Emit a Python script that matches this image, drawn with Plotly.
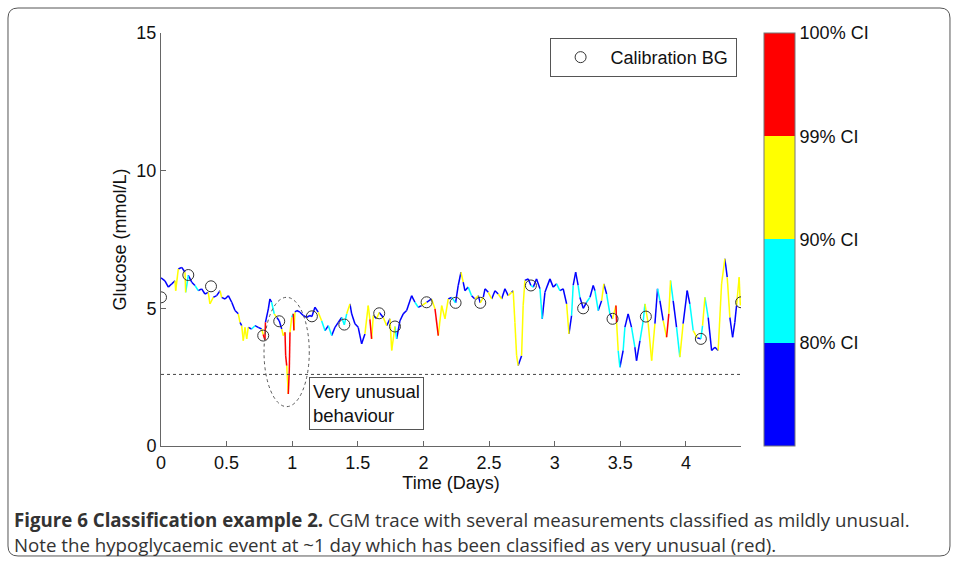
import plotly.graph_objects as go

# CGM trace: time (days), glucose (mmol/L), class index
# class: 0 = below 80% CI (blue), 1 = 80-90% (cyan), 2 = 90-99% (yellow), 3 = 99-100% (red)
time_days = [
    0.000, 0.030, 0.056, 0.082, 0.107, 0.112, 0.132, 0.158, 0.183, 0.188,
    0.208, 0.234, 0.259, 0.284, 0.310, 0.335, 0.360, 0.373, 0.398, 0.424,
    0.450, 0.462, 0.488, 0.513, 0.539, 0.564, 0.589, 0.602, 0.615, 0.627,
    0.640, 0.653, 0.665, 0.691, 0.716, 0.741, 0.767, 0.779, 0.792, 0.796,
    0.818, 0.830, 0.843, 0.863, 0.882, 0.901, 0.920, 0.932, 0.945, 0.950,
    0.958, 0.970, 0.978, 0.983, 0.996, 1.008, 1.013, 1.021, 1.034, 1.059,
    1.084, 1.110, 1.135, 1.150, 1.173, 1.198, 1.224, 1.250, 1.275, 1.301,
    1.326, 1.351, 1.377, 1.397, 1.415, 1.440, 1.453, 1.478, 1.503, 1.529,
    1.554, 1.579, 1.592, 1.605, 1.618, 1.643, 1.663, 1.694, 1.720, 1.745,
    1.758, 1.783, 1.796, 1.821, 1.846, 1.872, 1.910, 1.935, 1.960, 1.986,
    2.024, 2.062, 2.088, 2.113, 2.139, 2.164, 2.189, 2.215, 2.245, 2.265,
    2.286, 2.303, 2.316, 2.341, 2.367, 2.392, 2.418, 2.433, 2.456, 2.469,
    2.494, 2.520, 2.545, 2.570, 2.596, 2.621, 2.646, 2.672, 2.684, 2.697,
    2.710, 2.722, 2.748, 2.760, 2.773, 2.798, 2.819, 2.837, 2.862, 2.888,
    2.905, 2.926, 2.964, 2.989, 3.015, 3.040, 3.065, 3.091, 3.109, 3.129,
    3.141, 3.160, 3.179, 3.192, 3.218, 3.243, 3.269, 3.294, 3.307, 3.332,
    3.358, 3.375, 3.396, 3.421, 3.441, 3.467, 3.472, 3.484, 3.497, 3.522,
    3.535, 3.560, 3.586, 3.611, 3.624, 3.650, 3.675, 3.688, 3.713, 3.739,
    3.764, 3.784, 3.802, 3.827, 3.853, 3.870, 3.883, 3.903, 3.929, 3.954,
    3.979, 4.010, 4.030, 4.056, 4.086, 4.114, 4.127, 4.145, 4.170, 4.196,
    4.221, 4.246, 4.272, 4.297, 4.315, 4.335, 4.356, 4.373, 4.386, 4.406,
    4.415,
]
glucose = [
    6.11, 6.00, 5.77, 5.89, 6.00, 5.64, 6.43, 6.49, 6.31, 5.58,
    6.20, 5.95, 5.83, 5.64, 5.71, 5.52, 5.58, 5.16, 5.40, 5.46,
    5.64, 5.40, 5.34, 5.46, 5.22, 4.92, 4.80, 4.49, 4.37, 3.83,
    4.31, 3.89, 4.31, 4.25, 4.37, 4.31, 4.25, 4.05, 3.85, 4.49,
    4.98, 5.34, 5.22, 4.80, 4.67, 4.55, 4.25, 4.01, 4.13, 3.28,
    2.92, 1.89, 2.80, 4.13, 4.67, 4.80, 4.20, 4.86, 4.92, 4.86,
    4.74, 4.67, 4.74, 4.70, 5.04, 4.86, 4.55, 4.19, 4.37, 4.01,
    4.31, 4.49, 4.67, 4.40, 4.80, 5.16, 4.80, 4.44, 4.31, 3.71,
    4.07, 5.10, 4.60, 3.89, 4.74, 4.62, 4.85, 4.67, 4.37, 4.62,
    3.47, 4.34, 3.89, 4.55, 4.80, 4.92, 5.46, 5.22, 5.04, 5.10,
    5.22, 5.34, 4.98, 4.01, 5.10, 4.62, 5.34, 5.40, 5.20, 5.83,
    6.31, 5.95, 5.64, 5.77, 5.46, 5.34, 5.46, 5.20, 5.40, 5.71,
    5.58, 5.34, 5.64, 5.52, 5.34, 5.71, 5.46, 5.58, 5.64, 4.49,
    3.28, 2.92, 3.28, 5.10, 6.01, 6.07, 5.83, 5.77, 6.07, 5.71,
    4.62, 5.58, 6.07, 5.77, 5.89, 5.64, 5.71, 5.16, 4.07, 4.74,
    5.83, 6.31, 5.83, 5.40, 5.00, 5.22, 5.40, 5.83, 5.64, 4.92,
    5.28, 5.89, 5.52, 4.80, 4.62, 5.10, 4.49, 3.47, 2.86, 3.47,
    4.31, 4.80, 4.31, 3.59, 3.10, 3.83, 4.55, 5.16, 4.44, 3.10,
    4.44, 5.71, 5.28, 4.55, 3.95, 4.80, 6.01, 5.28, 4.31, 3.23,
    4.44, 5.64, 5.16, 4.19, 3.93, 3.89, 4.37, 5.40, 4.67, 3.47,
    3.59, 3.47, 5.89, 6.80, 6.13, 4.67, 3.95, 4.49, 5.10, 6.13,
    5.10,
]
ci_class = [
    0, 0, 0, 0, 2, 2, 0, 0, 2, 1,
    0, 0, 1, 0, 0, 0, 2, 2, 0, 0,
    2, 0, 0, 0, 0, 0, 2, 0, 2, 2,
    2, 2, 0, 1, 0, 0, 2, 3, 3, 0,
    0, 0, 1, 2, 0, 0, 2, 2, 3, 3,
    2, 3, 3, 2, 1, 3, 2, 0, 0, 0,
    0, 0, 0, 0, 0, 2, 1, 0, 1, 0,
    0, 0, 1, 1, 2, 0, 0, 0, 0, 0,
    2, 2, 3, 2, 0, 2, 0, 2, 0, 2,
    2, 1, 0, 0, 0, 0, 0, 1, 0, 2,
    0, 2, 3, 2, 2, 2, 0, 1, 0, 0,
    2, 0, 0, 1, 0, 2, 0, 2, 0, 0,
    2, 0, 0, 2, 0, 0, 2, 0, 2, 2,
    2, 0, 2, 2, 0, 0, 1, 0, 0, 1,
    0, 0, 0, 0, 1, 0, 0, 2, 0, 1,
    0, 0, 1, 0, 0, 1, 0, 0, 1, 0,
    2, 0, 1, 0, 2, 3, 2, 1, 0, 1,
    0, 0, 1, 0, 0, 1, 1, 2, 2, 2,
    0, 1, 0, 2, 3, 2, 1, 0, 1, 2,
    0, 0, 1, 2, 0, 1, 2, 1, 0, 0,
    0, 2, 2, 0, 2, 0, 0, 0, 2, 2,
    2,
]

# calibration blood glucose measurements
calib_days = [0.000, 0.208, 0.381, 0.779, 0.901, 1.150, 1.397, 1.663, 1.783,
              2.024, 2.245, 2.433, 2.819, 3.217, 3.441, 3.695, 4.114, 4.421]
calib_bg = [5.40, 6.21, 5.80, 4.01, 4.53, 4.71, 4.41, 4.82, 4.34,
            5.22, 5.20, 5.20, 5.83, 5.00, 4.62, 4.70, 3.89, 5.22]

hypo_threshold = 2.6
class_colors = ["#0000FF", "#00FFFF", "#FFFF00", "#FF0000"]
class_labels = ["80% CI", "90% CI", "99% CI", "100% CI"]

FONT = "Liberation Sans, Arial, sans-serif"
CAPTION_FONT = "Open Sans, sans-serif"

fig = go.Figure()

# one trace per class, built from the segments that start at a point of that class
for k, color in enumerate(class_colors):
    xs, ys = [], []
    for i in range(len(time_days) - 1):
        if ci_class[i] == k:
            xs += [time_days[i], time_days[i + 1], None]
            ys += [glucose[i], glucose[i + 1], None]
    fig.add_trace(go.Scatter(
        x=xs, y=ys, mode="lines",
        line=dict(color=color, width=1.5),
        showlegend=False, hoverinfo="skip",
    ))

fig.add_trace(go.Scatter(
    x=calib_days, y=calib_bg, mode="markers",
    marker=dict(symbol="circle-open", size=11, color="#333333", line=dict(width=1)),
    name="Calibration BG",
))

# hypoglycaemia threshold
fig.add_trace(go.Scatter(
    x=[0, 4.42], y=[hypo_threshold, hypo_threshold], mode="lines",
    line=dict(color="#444444", width=1, dash="dot"),
    showlegend=False, hoverinfo="skip",
))

# colour bar for the confidence classes
scale = []
for k, color in enumerate(class_colors):
    scale += [[k / 4, color], [(k + 1) / 4, color]]
fig.add_trace(go.Scatter(
    x=[None], y=[None], mode="markers", showlegend=False,
    marker=dict(
        color=[0], cmin=0, cmax=4, colorscale=scale, showscale=True,
        colorbar=dict(
            x=1.0397, xanchor="left", xpad=0, y=0.5, yanchor="middle", ypad=0, len=1.0,
            thickness=31, outlinecolor="#777777", outlinewidth=1,
            tickvals=[1, 2, 3, 4], ticktext=class_labels, ticks="",
            tickfont=dict(family=FONT, size=18, color="#111111"),
        ),
    ),
))

# ellipse around the hypoglycaemic event
fig.add_shape(type="circle", xref="x", yref="y", x0=0.785, x1=1.130, y0=1.43, y1=5.40,
              line=dict(color="#555555", width=1, dash="dot"))

fig.add_annotation(
    x=1.128, y=2.52, xref="x", yref="y", xanchor="left", yanchor="top",
    text="Very unusual<br>behaviour", showarrow=False, align="left",
    font=dict(family=FONT, size=18.5, color="#111111"),
    bordercolor="#555555", borderwidth=1, borderpad=3, bgcolor="white",
)

# figure frame and caption
fig.add_shape(
    type="path", xref="paper", yref="paper", layer="below",
    path="M -0.2466,1.0605 L 1.3431,1.0605 Q 1.3603,1.0605 1.3603,1.0363 "
         "L 1.3603,-0.2421 Q 1.3603,-0.2663 1.3431,-0.2663 "
         "L -0.2466,-0.2663 Q -0.2638,-0.2663 -0.2638,-0.2421 "
         "L -0.2638,1.0363 Q -0.2638,1.0605 -0.2466,1.0605 Z",
    line=dict(color="#555555", width=1),
)
fig.add_annotation(
    x=-0.2569, y=-0.1768, xref="paper", yref="paper", xanchor="left", yanchor="middle",
    showarrow=False, align="left",
    text="<b>Figure 6 Classification example 2.</b> CGM trace with several measurements "
         "classified as mildly unusual.",
    font=dict(family=CAPTION_FONT, size=18.7, color="#333333"),
)
fig.add_annotation(
    x=-0.2569, y=-0.2397, xref="paper", yref="paper", xanchor="left", yanchor="middle",
    showarrow=False, align="left",
    text="Note the hypoglycaemic event at ~1 day which has been classified as very unusual (red).",
    font=dict(family=CAPTION_FONT, size=18.7, color="#333333"),
)

axis_style = dict(
    showline=True, linecolor="#666666", linewidth=1, ticks="inside", ticklen=5,
    tickcolor="#666666", showgrid=False, zeroline=False, mirror=False,
    tickfont=dict(family=FONT, size=18, color="#111111"),
    title_font=dict(family=FONT, size=18, color="#111111"),
)

fig.update_layout(
    width=958, height=564,
    margin=dict(l=161, r=217, t=33, b=118),
    plot_bgcolor="white", paper_bgcolor="white",
    xaxis=dict(range=[0, 4.42], tickvals=[0, 0.5, 1, 1.5, 2, 2.5, 3, 3.5, 4],
               ticktext=["0", "0.5", "1", "1.5", "2", "2.5", "3", "3.5", "4"],
               title=dict(text="Time (Days)", standoff=2), **axis_style),
    yaxis=dict(range=[0, 15], tickvals=[0, 5, 10, 15],
               title=dict(text="Glucose (mmol/L)", standoff=5), **axis_style),
    legend=dict(x=0.67, y=0.988, xanchor="left", yanchor="top",
                orientation="h", entrywidth=120, itemwidth=50,
                bordercolor="#555555", borderwidth=1, bgcolor="white",
                font=dict(family=FONT, size=18, color="#111111")),
)

fig.write_html("out.html", config={"displayModeBar": False},
               post_script="document.body.style.margin = '0px';")
